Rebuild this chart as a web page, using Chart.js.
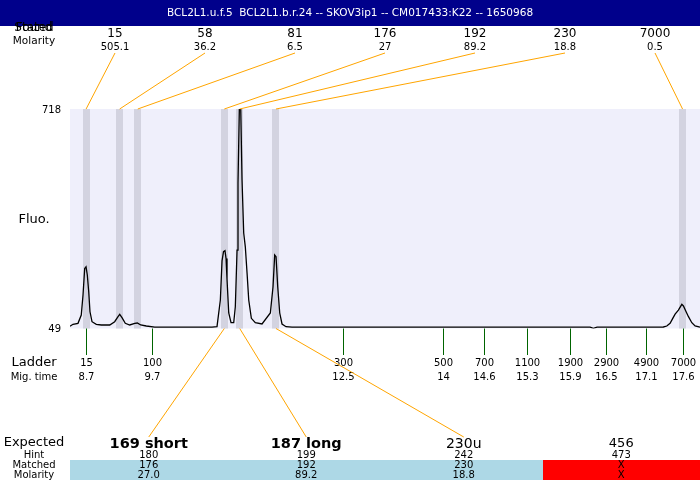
<!DOCTYPE html>
<html>
<head>
  <title>BCL2L1 electropherogram</title>
  <script src="https://cdn.jsdelivr.net/npm/chart.js"></script>
  <style>
    body { margin: 0; background: #fff; }
    canvas { display: block; }
  </style>
</head>
<body>
  <canvas id="trace" width="700" height="480"></canvas>

  <script>
    // header
    var title = 'BCL2L1.u.f.5  BCL2L1.b.r.24 -- SKOV3ip1 -- CM017433:K22 -- 1650968';

    // found peaks (migration time, size, molarity)
    var peakTimes = [8.70, 9.20, 9.47, 10.76, 10.99, 11.53, 17.59];
    var peakSizes = ['15', '58', '81', '176', '192', '230', '7000'];
    var peakMolarity = ['505.1', '36.2', '6.5', '27', '89.2', '18.8', '0.5'];

    // ladder
    var ladderTimes = [8.70, 9.68, 12.53, 14.02, 14.63, 15.27, 15.91, 16.45, 17.05, 17.60];
    var ladderSizes = ['15', '100', '300', '500', '700', '1100', '1900', '2900', '4900', '7000'];
    var ladderMigLabels = ['8.7', '9.7', '12.5', '14', '14.6', '15.3', '15.9', '16.5', '17.1', '17.6'];

    // y axis
    var fluoTicks = [49, 718];

    // expected products table
    var expected = ['169 short', '187 long', '230u', '456'];
    var hints = ['180', '199', '242', '473'];
    var matched = ['176', '192', '230', 'X'];
    var matchedMolarity = ['27.0', '89.2', '18.8', 'X'];
    var matchedPeak = [3, 4, 5, -1];

    // fluorescence trace
    var traceTime = [
      8.46, 8.505, 8.579, 8.628, 8.654, 8.679, 8.699, 8.718, 8.739, 8.758, 8.788, 8.852,
      8.927, 9.052, 9.126, 9.176, 9.201, 9.235, 9.284, 9.350, 9.425, 9.463, 9.514, 9.597,
      9.723, 10.577, 10.651, 10.701, 10.726, 10.748, 10.770, 10.786, 10.800, 10.826, 10.860, 10.900,
      10.924, 10.950, 10.964, 10.984, 11.005, 11.024, 11.049, 11.073, 11.099, 11.124, 11.163,
      11.222, 11.322, 11.446, 11.486, 11.511, 11.531, 11.556, 11.586, 11.620, 11.680, 11.769,
      16.212, 16.261, 16.316, 17.304, 17.355, 17.404, 17.444, 17.479, 17.528, 17.579, 17.603,
      17.643, 17.678, 17.728, 17.777, 17.85
    ];
    var traceFluo = [
      56, 61.8, 64.8, 90, 151, 232, 237, 212, 161, 100, 69.7, 61.8,
      59.7, 59.7, 69.7, 85, 92, 82, 64.8, 59.7, 64.8, 65.8, 59.7, 56.6,
      53, 53, 54.5, 135.9, 255, 283, 286, 262, 200, 96.2, 66.7, 66.7,
      115.4, 288, 492.5, 717, 718, 502, 340, 298, 218, 135.9, 80,
      66.7, 62.7, 96.2, 176.4, 273, 267.8, 176.4, 96.2, 62.7, 54.5, 53,
      53, 49.6, 53, 53.6, 56.6, 64.8, 80, 93, 105, 122.7, 117.6,
      100, 85, 66.7, 56.6, 53
    ];

    var FONT = '"DejaVu Sans", sans-serif';
    var expectedFonts = ['bold 14.5px', 'bold 14.5px', '14px', '13px'];

    function txt(ctx, s, x, y, font, align, color) {
      ctx.font = font + ' ' + FONT;
      ctx.textAlign = align || 'center';
      ctx.textBaseline = 'middle';
      ctx.fillStyle = color || '#000';
      ctx.fillText(s, x, y);
    }

    function line(ctx, x1, y1, x2, y2, color) {
      ctx.strokeStyle = color;
      ctx.lineWidth = 1;
      ctx.beginPath();
      ctx.moveTo(x1, y1);
      ctx.lineTo(x2, y2);
      ctx.stroke();
    }

    var gelPlugin = {
      id: 'gel',
      beforeDraw: function(chart) {
        var ctx = chart.ctx, a = chart.chartArea, xs = chart.scales.x;
        ctx.save();
        ctx.fillStyle = '#fff';
        ctx.fillRect(0, 0, chart.width, chart.height);
        ctx.fillStyle = '#00008B';
        ctx.fillRect(0, 0, chart.width, 26);
        txt(ctx, title, chart.width / 2, 13, '10.5px', 'center', '#fff');

        ctx.fillStyle = '#EFEFFB';
        ctx.fillRect(a.left, a.top, a.right - a.left, a.bottom - a.top);
        ctx.fillStyle = '#D3D3E0';
        peakTimes.forEach(function(t) {
          var l = Math.round(xs.getPixelForValue(t - 0.052)), r = Math.round(xs.getPixelForValue(t + 0.052));
          ctx.fillRect(l, a.top, r - l, a.bottom - a.top);
        });
        ctx.restore();
      },
      afterDraw: function(chart) {
        var ctx = chart.ctx, a = chart.chartArea, xs = chart.scales.x, ys = chart.scales.y;
        ctx.save();

        // found peaks header
        txt(ctx, 'Found', 34, 28, '12px');
        txt(ctx, 'Stated', 34, 28, '12px');
        txt(ctx, 'Molarity', 34, 41, '10.5px');
        peakTimes.forEach(function(t, i) {
          var lx = 115 + i * 90;
          txt(ctx, peakSizes[i], lx, 34, '12px');
          txt(ctx, peakMolarity[i], lx, 47, '10px');
          line(ctx, lx, 53, xs.getPixelForValue(t), a.top, '#FFA500');
        });

        // y labels
        fluoTicks.forEach(function(v) {
          txt(ctx, String(v), 61, ys.getPixelForValue(v) + 1, '10px', 'right');
        });
        txt(ctx, 'Fluo.', 34, 220, '13px');

        // ladder
        txt(ctx, 'Ladder', 34, 363, '13px');
        txt(ctx, 'Mig. time', 34, 377, '10px');
        ladderTimes.forEach(function(t, i) {
          var x = Math.round(xs.getPixelForValue(t)) + 0.5;
          line(ctx, x, a.bottom, x, 355, '#006400');
          txt(ctx, ladderSizes[i], x, 363, '10px');
          txt(ctx, ladderMigLabels[i], x, 377, '10px');
        });

        // expected table
        var colW = (a.right - a.left) / expected.length;
        txt(ctx, 'Expected', 34, 443, '13px');
        txt(ctx, 'Hint', 34, 455, '10px');
        txt(ctx, 'Matched', 34, 465, '10px');
        txt(ctx, 'Molarity', 34, 475, '10px');
        expected.forEach(function(e, i) {
          var cx = a.left + colW * (i + 0.5);
          var l = Math.round(a.left + colW * i), r = Math.round(a.left + colW * (i + 1));
          ctx.fillStyle = matched[i] === 'X' ? '#FF0000' : '#ADD8E6';
          ctx.fillRect(l, 460, r - l, 20);
          txt(ctx, e, cx, 444, expectedFonts[i]);
          txt(ctx, hints[i], cx, 455, '10px');
          txt(ctx, matched[i], cx, 465, '10px');
          txt(ctx, matchedMolarity[i], cx, 475, '10px');
          if (matchedPeak[i] >= 0) {
            line(ctx, xs.getPixelForValue(peakTimes[matchedPeak[i]]), a.bottom, cx, 437, '#FFA500');
          }
        });
        ctx.restore();
      }
    };

    var ctx = document.getElementById('trace').getContext('2d');
    new Chart(ctx, {
      type: 'line',
      data: {
        datasets: [{
          data: traceTime.map(function(t, i) { return { x: t, y: traceFluo[i] }; }),
          borderColor: '#000',
          borderWidth: 1.3,
          pointRadius: 0,
          tension: 0,
          fill: false
        }]
      },
      options: {
        responsive: false,
        animation: false,
        events: [],
        layout: { padding: { left: 70, right: 0, top: 109, bottom: 151.5 } },
        plugins: { legend: { display: false }, tooltip: { enabled: false } },
        scales: {
          x: { type: 'linear', min: 8.46, max: 17.85, display: false },
          y: { min: 49, max: 718, display: false }
        }
      },
      plugins: [gelPlugin]
    });
  </script>
</body>
</html>
